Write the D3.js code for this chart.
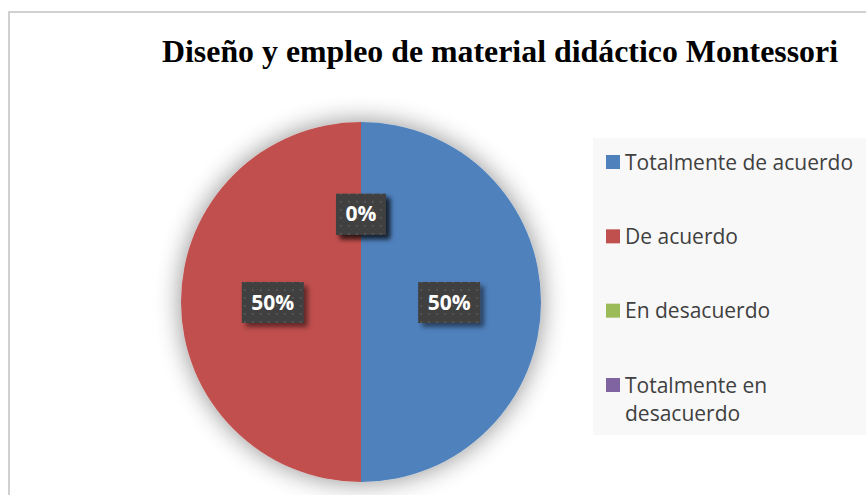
<!DOCTYPE html>
<html>
<head>
<meta charset="utf-8">
<script src="https://cdn.jsdelivr.net/npm/d3@7/dist/d3.min.js"></script>
<style>
  body { margin: 0; background: #fff; }
  svg { display: block; }
</style>
</head>
<body>
<div id="chart"></div>
<script>
// data
var categories = ['Totalmente de acuerdo', 'De acuerdo', 'En desacuerdo', 'Totalmente en desacuerdo'];
var values = [50, 50, 0, 0];
var colors = ['#4F81BD', '#C0504D', '#9BBB59', '#8064A2'];
var legendLines = [['Totalmente de acuerdo'], ['De acuerdo'], ['En desacuerdo'], ['Totalmente en', 'desacuerdo']];
var title = 'Diseño y empleo de material didáctico Montessori';

var width = 866, height = 495;
var cx = 361, cy = 302, radius = 180;

var svg = d3.select('#chart').append('svg')
	.attr('width', width)
	.attr('height', height);

var defs = svg.append('defs');

// soft glow round the pie
var glow = defs.append('filter').attr('id', 'glow')
	.attr('x', '-30%').attr('y', '-30%').attr('width', '160%').attr('height', '160%');
glow.append('feGaussianBlur').attr('in', 'SourceAlpha').attr('stdDeviation', 13);
glow.append('feComponentTransfer').append('feFuncA').attr('type', 'linear').attr('slope', 0.45);
var gm = glow.append('feMerge');
gm.append('feMergeNode');
gm.append('feMergeNode').attr('in', 'SourceGraphic');

// drop shadow for label boxes
var ds = defs.append('filter').attr('id', 'drop')
	.attr('x', '-30%').attr('y', '-30%').attr('width', '170%').attr('height', '170%');
ds.append('feGaussianBlur').attr('in', 'SourceAlpha').attr('stdDeviation', 2.5);
ds.append('feOffset').attr('dx', 4).attr('dy', 4).attr('result', 'off');
ds.append('feComponentTransfer').append('feFuncA').attr('type', 'linear').attr('slope', 0.5);
var dm = ds.append('feMerge');
dm.append('feMergeNode');
dm.append('feMergeNode').attr('in', 'SourceGraphic');

// dotted fill of the label boxes
var pat = defs.append('pattern').attr('id', 'dots')
	.attr('width', 8).attr('height', 8).attr('patternUnits', 'userSpaceOnUse');
pat.append('rect').attr('width', 8).attr('height', 8).attr('fill', '#3f3f3f');
pat.append('rect').attr('x', 3).attr('y', 3).attr('width', 2).attr('height', 2).attr('fill', '#545454');

// chart frame
svg.append('path')
	.attr('d', 'M9,' + height + ' V12 H' + width)
	.attr('fill', 'none')
	.attr('stroke', '#d0d0d0')
	.attr('stroke-width', 2);

svg.append('text')
	.attr('x', 500)
	.attr('y', 62)
	.attr('text-anchor', 'middle')
	.attr('textLength', 676)
	.attr('lengthAdjust', 'spacingAndGlyphs')
	.style('font-family', '"Liberation Serif", "Times New Roman", serif')
	.style('font-weight', 'bold')
	.style('font-size', '31px')
	.attr('fill', '#000')
	.text(title);

var pie = d3.pie().sort(null).value(d => d)(values);
var arc = d3.arc().innerRadius(0).outerRadius(radius);
var labelArc = d3.arc().innerRadius(radius * 0.49).outerRadius(radius * 0.49);

var g = svg.append('g').attr('transform', 'translate(' + cx + ',' + cy + ')');

g.append('g').attr('filter', 'url(#glow)')
	.selectAll('path')
	.data(pie)
	.enter().append('path')
	.attr('d', arc)
	.attr('fill', (d, i) => colors[i]);

var labels = g.selectAll('.lbl')
	.data(pie)
	.enter().append('g')
	.attr('class', 'lbl')
	.attr('transform', d => 'translate(' + labelArc.centroid(d) + ')');

var total = d3.sum(values);
labels.append('rect')
	.attr('x', d => (d.value > 0 ? -31 : -25))
	.attr('y', -20)
	.attr('width', d => (d.value > 0 ? 62 : 50))
	.attr('height', 41)
	.attr('fill', 'url(#dots)')
	.attr('filter', 'url(#drop)');

labels.append('text')
	.attr('text-anchor', 'middle')
	.attr('dy', '0.36em')
	.style('font-family', '"Open Sans", "Noto Sans", sans-serif')
	.style('font-weight', 'bold')
	.style('font-size', '21px')
	.attr('fill', '#fff')
	.text(d => Math.round(d.value / total * 100) + '%');

// legend
var legend = svg.append('g');
legend.append('rect')
	.attr('x', 593).attr('y', 138)
	.attr('width', width - 593).attr('height', 297)
	.attr('fill', '#f8f8f8');

var legendY = d3.scalePoint().domain(categories).range([162, 385]);

var item = legend.selectAll('.item')
	.data(categories)
	.enter().append('g')
	.attr('class', 'item')
	.attr('transform', d => 'translate(606,' + legendY(d) + ')');

item.append('rect')
	.attr('x', 0).attr('y', -7)
	.attr('width', 14).attr('height', 14)
	.attr('fill', (d, i) => colors[i]);

item.append('text')
	.attr('x', 19)
	.style('font-family', '"Open Sans", "Noto Sans", sans-serif')
	.style('font-size', '21px')
	.attr('fill', '#404040')
	.selectAll('tspan')
	.data((d, i) => legendLines[i])
	.enter().append('tspan')
	.attr('x', 19)
	.attr('y', (d, j) => j * 28)
	.attr('dy', '0.36em')
	.text(d => d);
</script>
</body>
</html>
